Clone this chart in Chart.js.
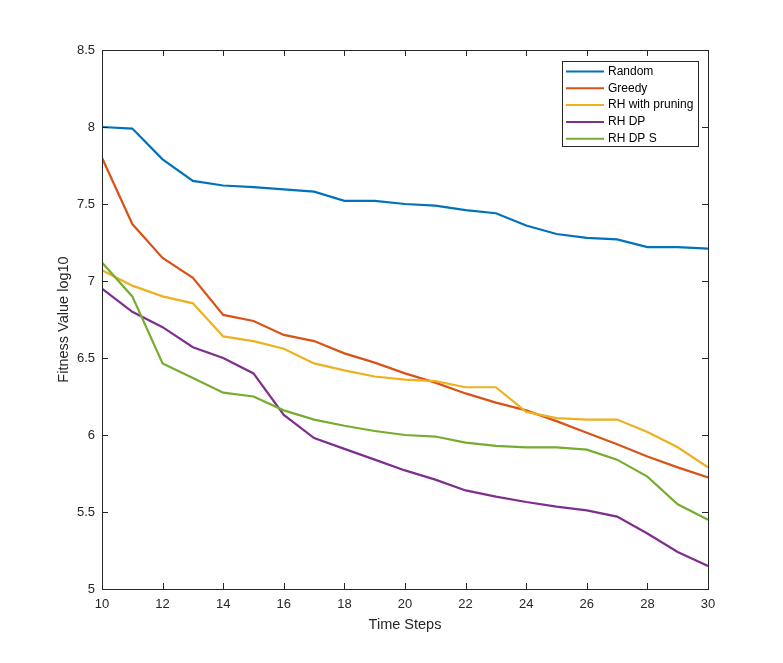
<!DOCTYPE html>
<html>
<head>
<meta charset="utf-8">
<title>Fitness Value log10</title>
<script src="https://cdn.jsdelivr.net/npm/chart.js@4.4.0/dist/chart.umd.min.js"></script>
<style>
  html, body { margin: 0; padding: 0; background: #fff; }
  #wrap { width: 783px; height: 663px; position: relative; }
</style>
</head>
<body>
<div id="wrap"><canvas id="fitnessChart"></canvas></div>
<script>
// Datos
const timeSteps = [10, 11, 12, 13, 14, 15, 16, 17, 18, 19, 20, 21, 22, 23, 24, 25, 26, 27, 28, 29, 30];
const seriesNames = ['Random', 'Greedy', 'RH with pruning', 'RH DP', 'RH DP S'];
const seriesColors = ['#0072BD', '#D95319', '#EDB120', '#7E2F8E', '#77AC30'];

const randomValues = [8.00, 7.99, 7.79, 7.65, 7.62, 7.61, 7.595, 7.58, 7.52, 7.52, 7.50, 7.49, 7.46, 7.44, 7.36, 7.305, 7.28, 7.27, 7.22, 7.22, 7.21];
const greedyValues = [7.80, 7.37, 7.15, 7.02, 6.78, 6.74, 6.65, 6.61, 6.53, 6.47, 6.40, 6.34, 6.27, 6.21, 6.16, 6.09, 6.015, 5.94, 5.86, 5.79, 5.725];
const pruningValues = [7.07, 6.97, 6.90, 6.855, 6.64, 6.61, 6.56, 6.465, 6.42, 6.38, 6.36, 6.35, 6.31, 6.31, 6.15, 6.11, 6.10, 6.10, 6.02, 5.92, 5.79];
const dpValues = [6.95, 6.80, 6.70, 6.57, 6.50, 6.40, 6.13, 5.98, 5.91, 5.84, 5.77, 5.71, 5.64, 5.60, 5.565, 5.535, 5.51, 5.47, 5.36, 5.24, 5.15];
const dpsValues = [7.12, 6.90, 6.465, 6.37, 6.275, 6.25, 6.16, 6.10, 6.06, 6.026, 6.00, 5.99, 5.95, 5.93, 5.92, 5.92, 5.905, 5.84, 5.73, 5.55, 5.45];

const xTicks = [10, 12, 14, 16, 18, 20, 22, 24, 26, 28, 30];
const yTicks = [5, 5.5, 6, 6.5, 7, 7.5, 8, 8.5];

const allValues = [randomValues, greedyValues, pruningValues, dpValues, dpsValues];

const axisColor = '#262626';
const fontFamily = '"Liberation Sans", Arial, sans-serif';

// Marco de ejes con marcas hacia dentro y leyenda estilo MATLAB
const matlabFrame = {
  id: 'matlabFrame',
  afterDraw(chart) {
    const { ctx, chartArea: a, scales } = chart;
    const tick = 6;
    ctx.save();
    ctx.strokeStyle = axisColor;
    ctx.lineWidth = 1;
    ctx.beginPath();
    xTicks.forEach(v => {
      const x = Math.round(scales.x.getPixelForValue(v)) + 0.5;
      ctx.moveTo(x, a.bottom); ctx.lineTo(x, a.bottom - tick);
      ctx.moveTo(x, a.top); ctx.lineTo(x, a.top + tick);
    });
    yTicks.forEach(v => {
      const y = Math.round(scales.y.getPixelForValue(v)) + 0.5;
      ctx.moveTo(a.left, y); ctx.lineTo(a.left + tick, y);
      ctx.moveTo(a.right, y); ctx.lineTo(a.right - tick, y);
    });
    ctx.stroke();
    ctx.strokeRect(Math.round(a.left) + 0.5, Math.round(a.top) + 0.5,
      Math.round(a.right - a.left), Math.round(a.bottom - a.top));

    // Leyenda
    const lx = 562, ly = 61, lw = 136, lh = 85, row = 16.8;
    ctx.fillStyle = '#fff';
    ctx.fillRect(lx, ly, lw, lh);
    ctx.strokeRect(lx + 0.5, ly + 0.5, lw, lh);
    ctx.font = '12px ' + fontFamily;
    ctx.textBaseline = 'middle';
    chart.data.datasets.forEach((ds, i) => {
      const y = ly + 10.5 + i * row;
      ctx.strokeStyle = ds.borderColor;
      ctx.lineWidth = 2;
      ctx.beginPath();
      ctx.moveTo(lx + 4, y); ctx.lineTo(lx + 42, y);
      ctx.stroke();
      ctx.fillStyle = '#000';
      ctx.fillText(ds.label, lx + 46, y);
    });
    ctx.restore();
  }
};

const ctx = document.getElementById('fitnessChart').getContext('2d');
new Chart(ctx, {
  type: 'line',
  data: {
    datasets: seriesNames.map((name, i) => ({
      label: name,
      data: timeSteps.map((t, j) => ({ x: t, y: allValues[i][j] })),
      borderColor: seriesColors[i],
      backgroundColor: seriesColors[i],
      borderWidth: 2.2,
      pointRadius: 0,
      tension: 0,
      fill: false,
      order: seriesNames.length - i
    }))
  },
  options: {
    responsive: true,
    maintainAspectRatio: false,
    animation: false,
    devicePixelRatio: 1,
    layout: { padding: { left: 0, top: 50, right: 75, bottom: 0 } },
    plugins: {
      legend: { display: false },
      tooltip: { enabled: false }
    },
    scales: {
      x: {
        type: 'linear',
        min: 10,
        max: 30,
        afterFit: (scale) => { scale.height = 74; },
        afterBuildTicks: (scale) => { scale.ticks = xTicks.map(v => ({ value: v })); },
        grid: { display: false, drawTicks: false },
        border: { display: false },
        ticks: { color: axisColor, font: { family: fontFamily, size: 13 }, padding: 8, maxRotation: 0 },
        title: {
          display: true,
          text: 'Time Steps',
          color: axisColor,
          font: { family: fontFamily, size: 14.5 },
          padding: { top: 0, bottom: 29 }
        }
      },
      y: {
        type: 'linear',
        min: 5,
        max: 8.5,
        afterFit: (scale) => { scale.width = 102; },
        afterBuildTicks: (scale) => { scale.ticks = yTicks.map(v => ({ value: v })); },
        grid: { display: false, drawTicks: false },
        border: { display: false },
        ticks: {
          color: axisColor,
          font: { family: fontFamily, size: 13 },
          padding: 7,
          callback: (value) => String(value)
        },
        title: {
          display: true,
          text: 'Fitness Value log10',
          color: axisColor,
          font: { family: fontFamily, size: 14.5 },
          padding: { top: 55, bottom: 0 }
        }
      }
    }
  },
  plugins: [matlabFrame]
});
</script>
</body>
</html>
